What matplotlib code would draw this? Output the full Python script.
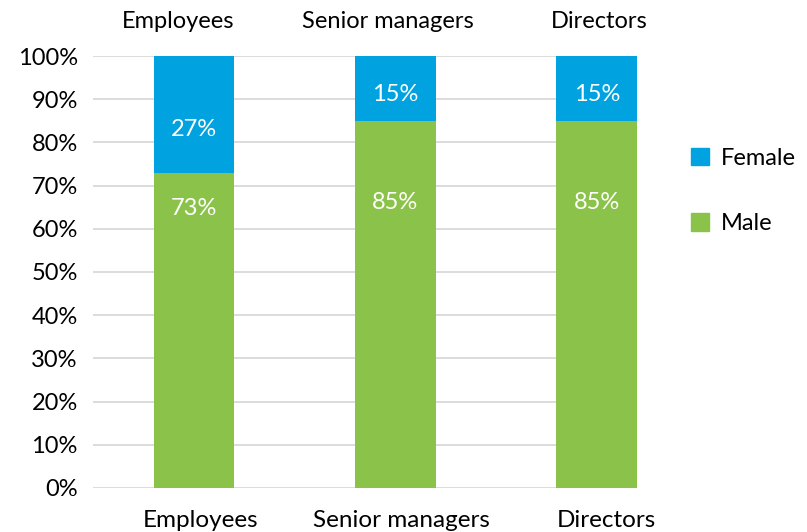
import numpy as np
import matplotlib.pyplot as plt
from matplotlib.patches import Patch

plt.rcParams['font.family'] = ['Lato', 'DejaVu Sans']

categories = ["Employees", "Senior managers", "Directors"]
male = [73, 85, 85]
female = [27, 15, 15]

BLUE = "#00a3e0"
GREEN = "#8bc34a"
FS = 17

fig = plt.figure(figsize=(8.07, 5.32), dpi=100)
W, H = 807, 532
ax = fig.add_axes([93 / W, (H - 488) / H, (637 - 93) / W, (488 - 56) / H])

x = np.arange(len(categories))
bar_w = 0.40
ax.bar(x, male, bar_w, color=GREEN, label="Male", zorder=2)
ax.bar(x, female, bar_w, bottom=male, color=BLUE, label="Female", zorder=2)

# value labels (Excel-like positions)
male_label_y = [64.8, 66.0, 66.0]
female_label_y = [83.0, 91.0, 91.0]
for i in range(len(categories)):
    ax.text(x[i], male_label_y[i], f"{male[i]}%", color="white", fontsize=FS,
            ha="center", va="center", zorder=3)
    ax.text(x[i], female_label_y[i], f"{female[i]}%", color="white", fontsize=FS,
            ha="center", va="center", zorder=3)

ax.set_xlim(-0.503, 2.2)
ax.set_ylim(0, 100)
ax.set_yticks(range(0, 101, 10))
ax.set_yticklabels([f"{v}%" for v in range(0, 101, 10)], fontsize=FS)
ax.yaxis.grid(True, color="#d9d9d9", linewidth=1.3, zorder=0)
ax.tick_params(axis="y", length=0, pad=11)
ax.tick_params(axis="x", length=0, pad=16)
ax.set_xticks(x + np.array([0.03, 0.03, 0.05]))
ax.set_xticklabels(categories, fontsize=FS + 0.5)
for s in ax.spines.values():
    s.set_visible(False)

# category labels on top
top_shift = [-0.08, -0.04, 0.01]
for i, c in enumerate(categories):
    ax.text(x[i] + top_shift[i], 108.0, c, fontsize=FS, ha="center", va="center",
            clip_on=False)

handles = [Patch(color=BLUE, label="Female"), Patch(color=GREEN, label="Male")]
fig.legend(handles=handles, loc="center left", bbox_to_anchor=(670 / W, 1 - 191 / H),
           frameon=False, fontsize=FS, handlelength=0.75, handleheight=0.75,
           labelspacing=1.88, handletextpad=0.5)

fig.savefig("out.png", dpi=100)
